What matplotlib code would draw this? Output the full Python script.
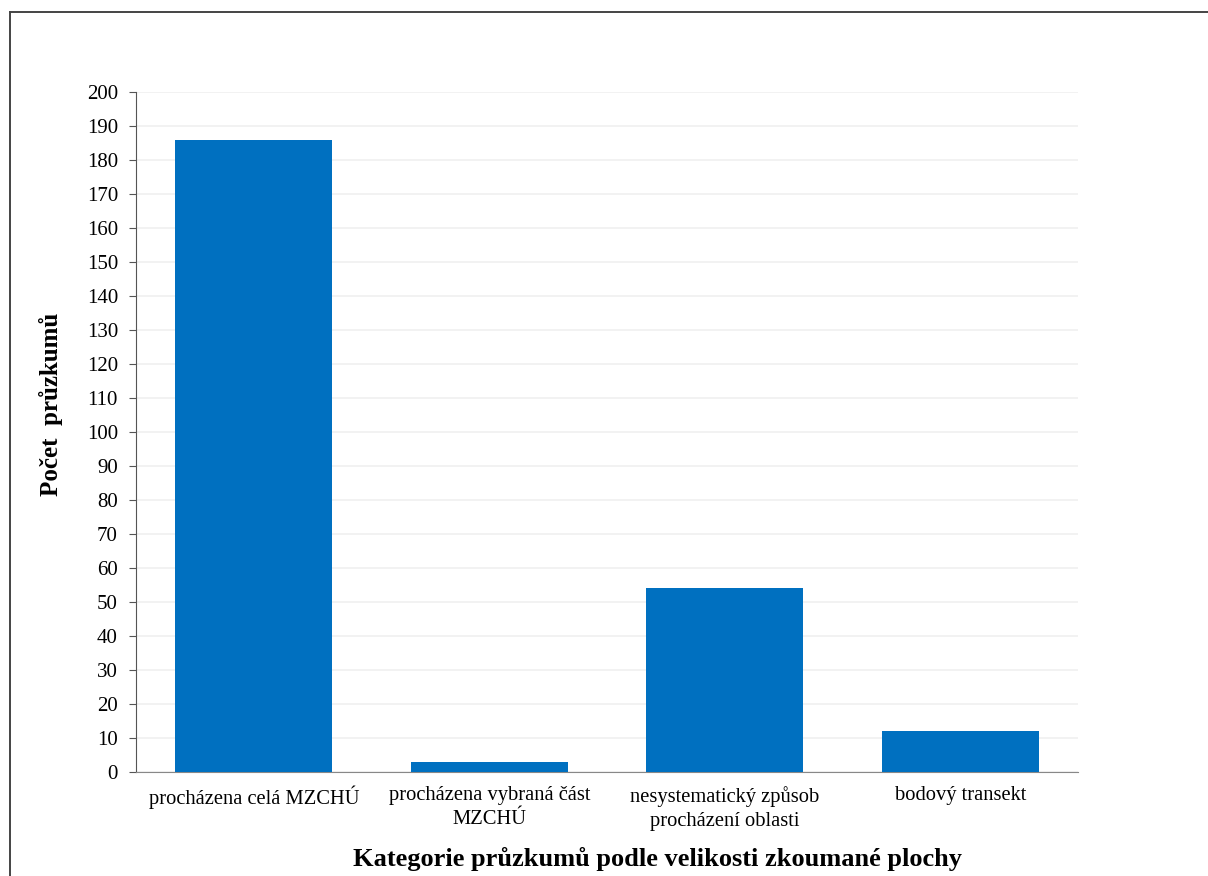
import numpy as np
import matplotlib.pyplot as plt
from matplotlib.lines import Line2D

plt.rcParams['font.family'] = ['Liberation Serif', 'DejaVu Serif']

# Počty průzkumů podle kategorie
categories = ["procházena celá MZCHÚ", "procházena vybraná část\nMZCHÚ",
              "nesystematický způsob\nprocházení oblasti", "bodový transekt"]
counts = [186, 3, 54, 12]
yticks = list(range(0, 201, 10))

fig = plt.figure(figsize=(12.08, 8.76), dpi=100)
ax = fig.add_axes([0.1126, 0.1187, 0.7798, 0.7763])

x = np.arange(len(categories))
ax.bar(x, counts, width=0.667, color="#0070c0", zorder=3)

ax.set_xlim(-0.5, len(categories) - 0.5)
ax.set_ylim(0, 200)
ax.set_yticks(yticks)
ax.set_xticks(x)
ax.set_xticklabels(categories, fontsize=14.8, linespacing=1.35)
ax.tick_params(axis="y", labelsize=15, length=5, color="#555555", pad=8)
ax.tick_params(axis="x", length=0, pad=10)
ax.grid(axis="y", color="#f0f0f0", linewidth=1.2, zorder=0)

for side in ["top", "right"]:
    ax.spines[side].set_visible(False)
ax.spines["left"].set_color("#555555")
ax.spines["bottom"].set_color("#888888")

ax.set_ylabel("Počet  průzkumů", fontsize=18, fontweight="bold")
ax.yaxis.set_label_coords(-0.078, 0.54)
fig.text(0.544, 0.006, "Kategorie průzkumů podle velikosti zkoumané plochy",
         ha="center", va="bottom", fontsize=19, fontweight="bold")

# rámeček kolem obrázku
fig.add_artist(Line2D([10 / 1208, 1.0], [1 - 12 / 876, 1 - 12 / 876],
                      transform=fig.transFigure, color="#444444", linewidth=1.4))
fig.add_artist(Line2D([10 / 1208, 10 / 1208], [0.0, 1 - 12 / 876],
                      transform=fig.transFigure, color="#444444", linewidth=1.4))

fig.savefig("out.png", dpi=100)
